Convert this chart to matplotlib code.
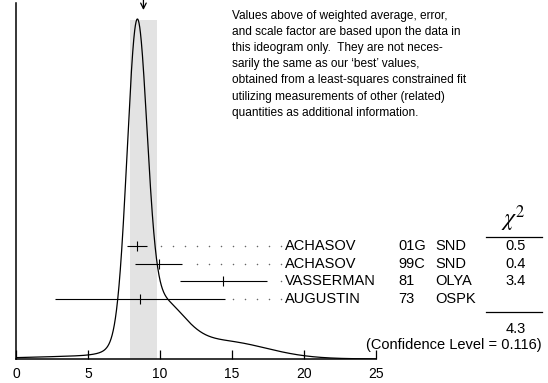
import numpy as np
import matplotlib
matplotlib.use("Agg")
import matplotlib.pyplot as plt
from matplotlib import transforms
from matplotlib.lines import Line2D

plt.rcParams['font.family'] = ['Liberation Sans', 'DejaVu Sans']
plt.rcParams['mathtext.fontset'] = 'stix'

# ---- data ----
authors = ["ACHASOV", "ACHASOV", "VASSERMAN", "AUGUSTIN"]
years = ["01G", "99C", "81", "73"]
experiments = ["SND", "SND", "OLYA", "OSPK"]
values = [8.4, 9.9, 14.4, 8.6]
errors = [0.68, 1.65, 3.0, 5.9]
chi2_labels = ["0.5", "0.4", "3.4", ""]
chi2_total = "4.3"
conf_level = "0.116"
avg_value = 8.85
avg_error = 0.92
xticks = [0, 5, 10, 15, 20, 25]

W, H = 548, 383
fig = plt.figure(figsize=(W / 100, H / 100), dpi=100)

def fx(px):
    return px / W

def fy(py):
    return 1 - py / H

# main axes: x from px 16 to 376, y from px 359 (base) to px 3 (top of spine)
ax = fig.add_axes([fx(16), fy(359), (376 - 16) / W, (359 - 3) / H])

xs = np.linspace(0, 25, 2000)
curve = np.zeros_like(xs)
for v, e in zip(values, errors):
    curve += (1.0 / e ** 2) * np.exp(-(xs - v) ** 2 / (2 * e ** 2))
peak = curve.max()
ax.set_xlim(0, 25)
ax.set_ylim(0, peak * 356 / 340)

ax.axvspan(avg_value - avg_error, avg_value + avg_error, ymin=0, ymax=339 / 356,
           color='#e3e3e3', lw=0, zorder=0)
ax.plot(xs, curve, color='black', lw=0.9, zorder=3)

for s in ['top', 'right']:
    ax.spines[s].set_visible(False)
for s in ['left', 'bottom']:
    ax.spines[s].set_linewidth(1.1)
ax.set_yticks([])
ax.set_xticks(xticks)
ax.set_xticklabels([str(t) for t in xticks])
ax.tick_params(axis='x', direction='in', length=6.5, width=0.9, labelsize=10, pad=6)

# arrow at average (from figure top down to ~9 px)
ax.annotate('', xy=(avg_value, (359 - 10) / 356), xycoords=('data', 'axes fraction'),
            xytext=(avg_value, 359 / 356), textcoords=('data', 'axes fraction'),
            arrowprops=dict(arrowstyle='->', color='black', lw=0.9, shrinkA=0, shrinkB=0,
                            mutation_scale=10), annotation_clip=False)

# rows axes (twin)
ax2 = ax.twinx()
ax2.set_ylim((359 - 246) / 17.6, (3 - 246) / 17.6)
ax2.axis('off')
rows = np.arange(len(values))
for r, v, e in zip(rows, values, errors):
    ax2.errorbar([v], [r], xerr=[e], fmt='none', ecolor='black', elinewidth=0.8, capsize=0, zorder=4)
    ax2.plot([v], [r], marker='|', markersize=7, color='black', mew=0.8, zorder=4)

# dotted leaders, anchored at right end (px 281), spaced 12 px
px_per_unit = 360 / 25
dot_end = (281 - 16) / px_per_unit
for r, v, e in zip(rows, values, errors):
    start = v + e + 8 / px_per_unit
    dots = np.arange(dot_end, start, -12 / px_per_unit)
    ax2.plot(dots, np.full_like(dots, r), ls='none', marker='o', markersize=1.1,
             color='#666666', mew=0, zorder=2)

# text columns
tr = transforms.blended_transform_factory(fig.transFigure, ax2.transData)
fs = 10.5
for r in rows:
    fig.text(fx(285), r, authors[r], transform=tr, fontsize=fs, va='center', ha='left')
    fig.text(fx(398), r, years[r], transform=tr, fontsize=fs, va='center', ha='left')
    fig.text(fx(435), r, experiments[r], transform=tr, fontsize=fs, va='center', ha='left')
    fig.text(fx(516), r, chi2_labels[r], transform=tr, fontsize=fs, va='center', ha='center')

fig.text(fx(513), fy(219), r'$\chi^2$', fontsize=17, va='center', ha='center')
fig.add_artist(Line2D([fx(486), fx(542)], [fy(236.5), fy(236.5)], color='black', lw=0.9))
fig.add_artist(Line2D([fx(486), fx(542)], [fy(312), fy(312)], color='black', lw=0.9))
fig.text(fx(516), fy(329), chi2_total, fontsize=fs, va='center', ha='center')
fig.text(fx(542), fy(345), "(Confidence Level = " + conf_level + ")", fontsize=fs,
         va='center', ha='right')

para = ("Values above of weighted average, error,\n"
        "and scale factor are based upon the data in\n"
        "this ideogram only.  They are not neces-\n"
        "sarily the same as our \u2018best\u2019 values,\n"
        "obtained from a least-squares constrained fit\n"
        "utilizing measurements of other (related)\n"
        "quantities as additional information.")
fig.text(fx(232), fy(9.5), para, fontsize=8.6, va='top', ha='left', linespacing=1.47)

fig.savefig("out.png", dpi=100)
